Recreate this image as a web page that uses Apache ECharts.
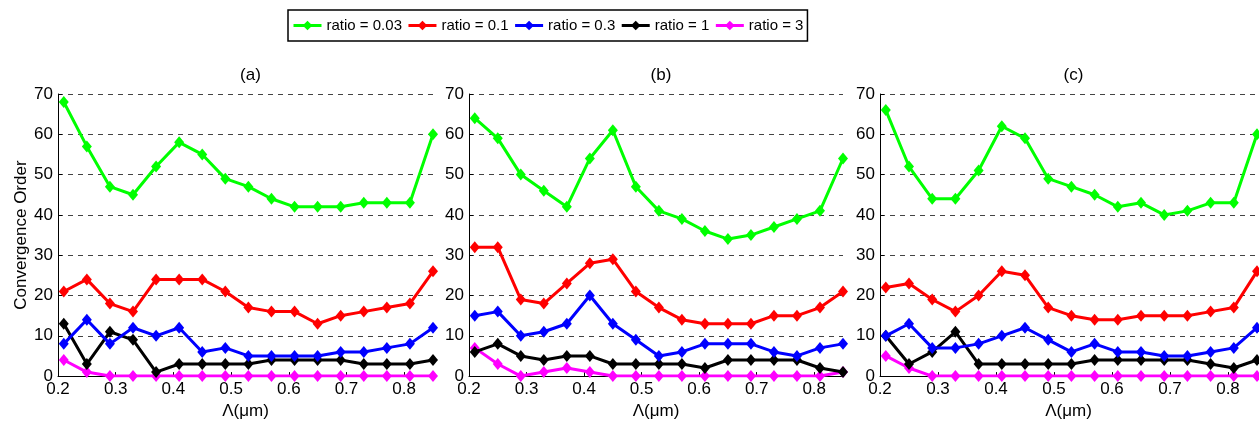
<!DOCTYPE html>
<html>
<head>
<meta charset="utf-8">
<script src="https://cdn.jsdelivr.net/npm/echarts@6/dist/echarts.min.js"></script>
<style>
html,body{margin:0;padding:0;background:#fff;}
#chart{width:1259px;height:425px;}
</style>
</head>
<body>
<div id="chart"></div>
<script>
// Lattice constant values (µm)
const lambdaValues = [0.21, 0.25, 0.29, 0.33, 0.37, 0.41, 0.45, 0.49, 0.53, 0.57, 0.61, 0.65, 0.69, 0.73, 0.77, 0.81, 0.85];
const seriesNames = ['ratio = 0.03', 'ratio = 0.1', 'ratio = 0.3', 'ratio = 1', 'ratio = 3'];
const seriesColors = ['#00ff00', '#ff0000', '#0000ff', '#000000', '#ff00ff'];
const panelTitles = ['(a)', '(b)', '(c)'];
const yTicks = [0, 10, 20, 30, 40, 50, 60, 70];
const xTicks = [0.2, 0.3, 0.4, 0.5, 0.6, 0.7, 0.8];

// Panel (a)
const a_r003 = [68, 57, 47, 45, 52, 58, 55, 49, 47, 44, 42, 42, 42, 43, 43, 43, 60];
const a_r01  = [21, 24, 18, 16, 24, 24, 24, 21, 17, 16, 16, 13, 15, 16, 17, 18, 26];
const a_r03  = [8, 14, 8, 12, 10, 12, 6, 7, 5, 5, 5, 5, 6, 6, 7, 8, 12];
const a_r1   = [13, 3, 11, 9, 1, 3, 3, 3, 3, 4, 4, 4, 4, 3, 3, 3, 4];
const a_r3   = [4, 1, 0, 0, 0, 0, 0, 0, 0, 0, 0, 0, 0, 0, 0, 0, 0];

// Panel (b)
const b_r003 = [64, 59, 50, 46, 42, 54, 61, 47, 41, 39, 36, 34, 35, 37, 39, 41, 54];
const b_r01  = [32, 32, 19, 18, 23, 28, 29, 21, 17, 14, 13, 13, 13, 15, 15, 17, 21];
const b_r03  = [15, 16, 10, 11, 13, 20, 13, 9, 5, 6, 8, 8, 8, 6, 5, 7, 8];
const b_r1   = [6, 8, 5, 4, 5, 5, 3, 3, 3, 3, 2, 4, 4, 4, 4, 2, 1];
const b_r3   = [7, 3, 0, 1, 2, 1, 0, 0, 0, 0, 0, 0, 0, 0, 0, 0, 1];

// Panel (c)
const c_r003 = [66, 52, 44, 44, 51, 62, 59, 49, 47, 45, 42, 43, 40, 41, 43, 43, 60];
const c_r01  = [22, 23, 19, 16, 20, 26, 25, 17, 15, 14, 14, 15, 15, 15, 16, 17, 26];
const c_r03  = [10, 13, 7, 7, 8, 10, 12, 9, 6, 8, 6, 6, 5, 5, 6, 7, 12];
const c_r1   = [10, 3, 6, 11, 3, 3, 3, 3, 3, 4, 4, 4, 4, 4, 3, 2, 4];
const c_r3   = [5, 2, 0, 0, 0, 0, 0, 0, 0, 0, 0, 0, 0, 0, 0, 0, 0];

const panels = [
  [a_r003, a_r01, a_r03, a_r1, a_r3],
  [b_r003, b_r01, b_r03, b_r1, b_r3],
  [c_r003, c_r01, c_r03, c_r1, c_r3]
];

const FONT = 'Liberation Sans, Arial, sans-serif';
const gridBoxes = [
  {left: 58, width: 375},
  {left: 469, width: 374},
  {left: 880, width: 377}
];
const plotTop = 94, plotHeight = 287;

const grids = gridBoxes.map(g => ({left: g.left, width: g.width, top: plotTop, height: plotHeight, containLabel: false}));

const xAxes = gridBoxes.map((g, i) => ({
  type: 'value', gridIndex: i, min: xTicks[0], max: 0.85, interval: 0.1,
  name: 'Λ(μm)', nameLocation: 'middle', nameGap: 23,
  nameTextStyle: {fontFamily: FONT, fontSize: 17, color: '#000'},
  axisLine: {show: true, lineStyle: {color: '#000', width: 1}},
  axisTick: {show: true, inside: true, length: 4, lineStyle: {color: '#000'}},
  axisLabel: {fontFamily: FONT, fontSize: 17, color: '#000', margin: 5, showMaxLabel: false,
    formatter: v => v.toFixed(1)},
  splitLine: {show: false}
}));

const yAxes = gridBoxes.map((g, i) => ({
  type: 'value', gridIndex: i, min: yTicks[0], max: yTicks[yTicks.length - 1], interval: 10,
  name: i === 0 ? 'Convergence Order' : '', nameLocation: 'middle', nameGap: 28,
  nameTextStyle: {fontFamily: FONT, fontSize: 17, color: '#000'},
  axisLine: {show: true, lineStyle: {color: '#000', width: 1}},
  axisTick: {show: true, inside: true, length: 4, lineStyle: {color: '#000'}},
  axisLabel: {fontFamily: FONT, fontSize: 17, color: '#000', margin: 5},
  splitLine: {show: true, lineStyle: {color: '#444', width: 1, type: [5, 5]}}
}));

const series = [];
panels.forEach((data, p) => {
  data.forEach((vals, s) => {
    series.push({
      name: seriesNames[s], type: 'line', xAxisIndex: p, yAxisIndex: p,
      data: lambdaValues.map((x, k) => [x, vals[k]]),
      symbol: 'diamond', symbolSize: [10, 12], showAllSymbol: true,
      lineStyle: {color: seriesColors[s], width: 3},
      itemStyle: {color: seriesColors[s]},
      z: 10 - s,
      animation: false
    });
  });
});

const chart = echarts.init(document.getElementById('chart'));
chart.setOption({
  backgroundColor: '#fff',
  animation: false,
  title: panelTitles.map((t, i) => ({
    text: t, left: gridBoxes[i].left + gridBoxes[i].width / 2, top: 62, textAlign: 'center',
    textStyle: {fontFamily: FONT, fontSize: 17, fontWeight: 'normal', color: '#000'}
  })),
  legend: {
    data: seriesNames, left: 288, top: 10,
    padding: [8, 4, 8, 4],
    borderColor: '#000', borderWidth: 1.5,
    itemWidth: 28, itemHeight: 12, itemGap: 5,
    lineStyle: {width: 3},
    textStyle: {fontFamily: FONT, fontSize: 15, color: '#000'}
  },
  grid: grids,
  xAxis: xAxes,
  yAxis: yAxes,
  series: series
});
</script>
</body>
</html>
